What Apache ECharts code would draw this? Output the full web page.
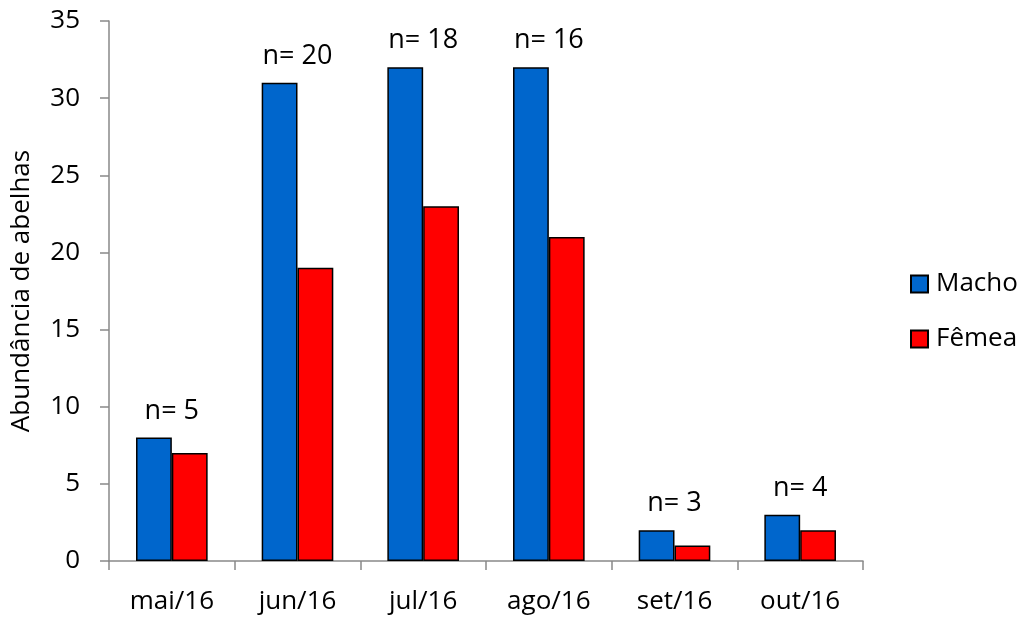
<!DOCTYPE html>
<html>
<head>
<meta charset="utf-8">
<script src="https://cdn.jsdelivr.net/npm/echarts@6/dist/echarts.min.js"></script>
<style>
  html, body { margin: 0; padding: 0; background: #fff; }
  #chart { width: 1026px; height: 619px; }
</style>
</head>
<body>
<div id="chart"></div>
<script>
// Monthly bee abundance by sex
const months = ['mai/16', 'jun/16', 'jul/16', 'ago/16', 'set/16', 'out/16'];
const macho = [8, 31, 32, 32, 2, 3];
const femea = [7, 19, 23, 21, 1, 2];
// sample size per month, shown above each group
const nLabels = ['n= 5', 'n= 20', 'n= 18', 'n= 16', 'n= 3', 'n= 4'];
const yTicks = { min: 0, max: 35, interval: 5 };

const font = '"Open Sans", "Noto Sans", sans-serif';
const axisGray = '#898989';

// invisible anchor points at the top of each group carry the n= labels
const nAnchors = months.map((m, i) => ({
  value: Math.max(macho[i], femea[i]),
  label: { formatter: nLabels[i] }
}));

const chart = echarts.init(document.getElementById('chart'));
chart.setOption({
  animation: false,
  textStyle: { fontFamily: font, color: '#000' },
  grid: { left: 109, right: 163, top: 21, bottom: 58 },
  legend: {
    data: ['Macho', 'Fêmea'],
    orient: 'vertical',
    left: 905,
    top: 266,
    itemWidth: 17,
    itemHeight: 17,
    itemGap: 29,
    icon: 'rect',
    textStyle: { fontSize: 26, lineHeight: 26, fontFamily: font, color: '#000', padding: [0, 0, 0, 3] }
  },
  xAxis: {
    type: 'category',
    data: months,
    axisLine: { lineStyle: { color: axisGray, width: 1.5 } },
    axisTick: { show: true, length: 9, alignWithLabel: false, lineStyle: { color: axisGray, width: 1.5 } },
    axisLabel: { fontSize: 26, fontFamily: font, color: '#000', margin: 28 }
  },
  yAxis: {
    type: 'value',
    min: yTicks.min,
    max: yTicks.max,
    interval: yTicks.interval,
    name: 'Abundância de abelhas',
    nameLocation: 'middle',
    nameGap: 74,
    nameTextStyle: { fontSize: 26, fontFamily: font, color: '#000' },
    axisLine: { show: true, lineStyle: { color: axisGray, width: 1.5 } },
    axisTick: { show: true, length: 9, lineStyle: { color: axisGray, width: 1.5 } },
    splitLine: { show: false },
    axisLabel: { fontSize: 26, fontFamily: font, color: '#000', margin: 29 }
  },
  series: [
    {
      name: 'Macho',
      type: 'bar',
      data: macho,
      barGap: '0%',
      barCategoryGap: '43%',
      itemStyle: { color: '#0066CC', borderColor: '#000', borderWidth: 1.5 }
    },
    {
      name: 'Fêmea',
      type: 'bar',
      data: femea,
      barGap: '0%',
      barCategoryGap: '43%',
      itemStyle: { color: '#FF0000', borderColor: '#000', borderWidth: 1.5 }
    },
    {
      name: 'n',
      type: 'scatter',
      data: nAnchors,
      symbolSize: 0,
      silent: true,
      z: 10,
      itemStyle: { opacity: 1 },
      label: {
        show: true,
        position: 'top',
        distance: 13,
        fontSize: 27,
        fontFamily: font,
        color: '#000'
      }
    }
  ]
});
</script>
</body>
</html>
